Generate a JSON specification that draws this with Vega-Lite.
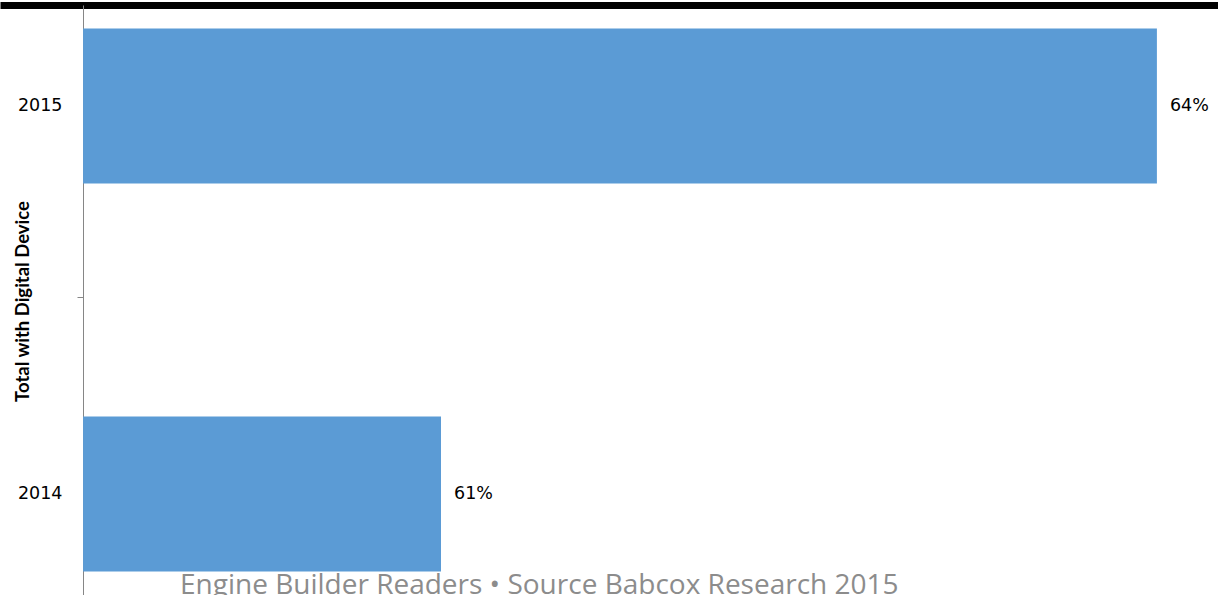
{
  "$schema": "https://vega.github.io/schema/vega-lite/v6.json",
  "width": 1218,
  "height": 590,
  "autosize": {"type": "none"},
  "padding": {"top": 5, "left": 0, "right": 0, "bottom": 0},
  "background": "white",
  "config": {"view": {"stroke": null}},
  "title": {
    "text": "Engine Builder Readers • Source Babcox Research 2015",
    "orient": "bottom",
    "anchor": "start",
    "frame": "group",
    "dx": 180,
    "offset": -1,
    "baseline": "alphabetic",
    "font": "Open Sans",
    "fontSize": 28,
    "fontWeight": "normal",
    "color": "#8c8c8c"
  },
  "data": {
    "values": [
      {"year": "2015", "value": 64, "label": "64%"},
      {"year": "2014", "value": 61, "label": "61%"}
    ]
  },
  "encoding": {
    "y": {
      "field": "year",
      "type": "nominal",
      "sort": ["2015", "2014"],
      "scale": {"paddingInner": 0.6005, "paddingOuter": 0.0606},
      "axis": {
        "title": "Total with Digital Device",
        "offset": -83,
        "domainColor": "#868686",
        "labelFont": "DejaVu Sans",
        "labelFontSize": 17.5,
        "labelColor": "black",
        "labelPadding": 15,
        "tickSize": 6,
        "tickColor": "#868686",
        "bandPosition": -0.765,
        "tickOpacity": {"condition": {"test": "datum.value === '2014'", "value": 1}, "value": 0},
        "titleFont": "Lato",
        "titleFontSize": 18.5,
        "titleFontWeight": "bold",
        "titleColor": "black",
        "titleX": -61,
        "titleY": 296,
        "titleAngle": -90,
        "titleBaseline": "middle",
        "titleAlign": "center"
      }
    }
  },
  "layer": [
    {
      "mark": {"type": "bar", "color": "#5B9BD5"},
      "encoding": {
        "x": {
          "field": "value",
          "type": "quantitative",
          "scale": {"domain": [59.152, 64.256], "zero": false, "nice": false},
          "axis": {
            "orient": "top",
            "labels": false,
            "ticks": false,
            "grid": false,
            "title": null,
            "domainColor": "black",
            "domainWidth": 7
          }
        },
        "x2": {"datum": 59.5}
      }
    },
    {
      "mark": {"type": "text", "align": "left", "baseline": "middle", "dx": 13, "font": "DejaVu Sans", "fontSize": 17.5, "color": "black"},
      "encoding": {
        "x": {"field": "value", "type": "quantitative"},
        "text": {"field": "label"}
      }
    }
  ]
}
